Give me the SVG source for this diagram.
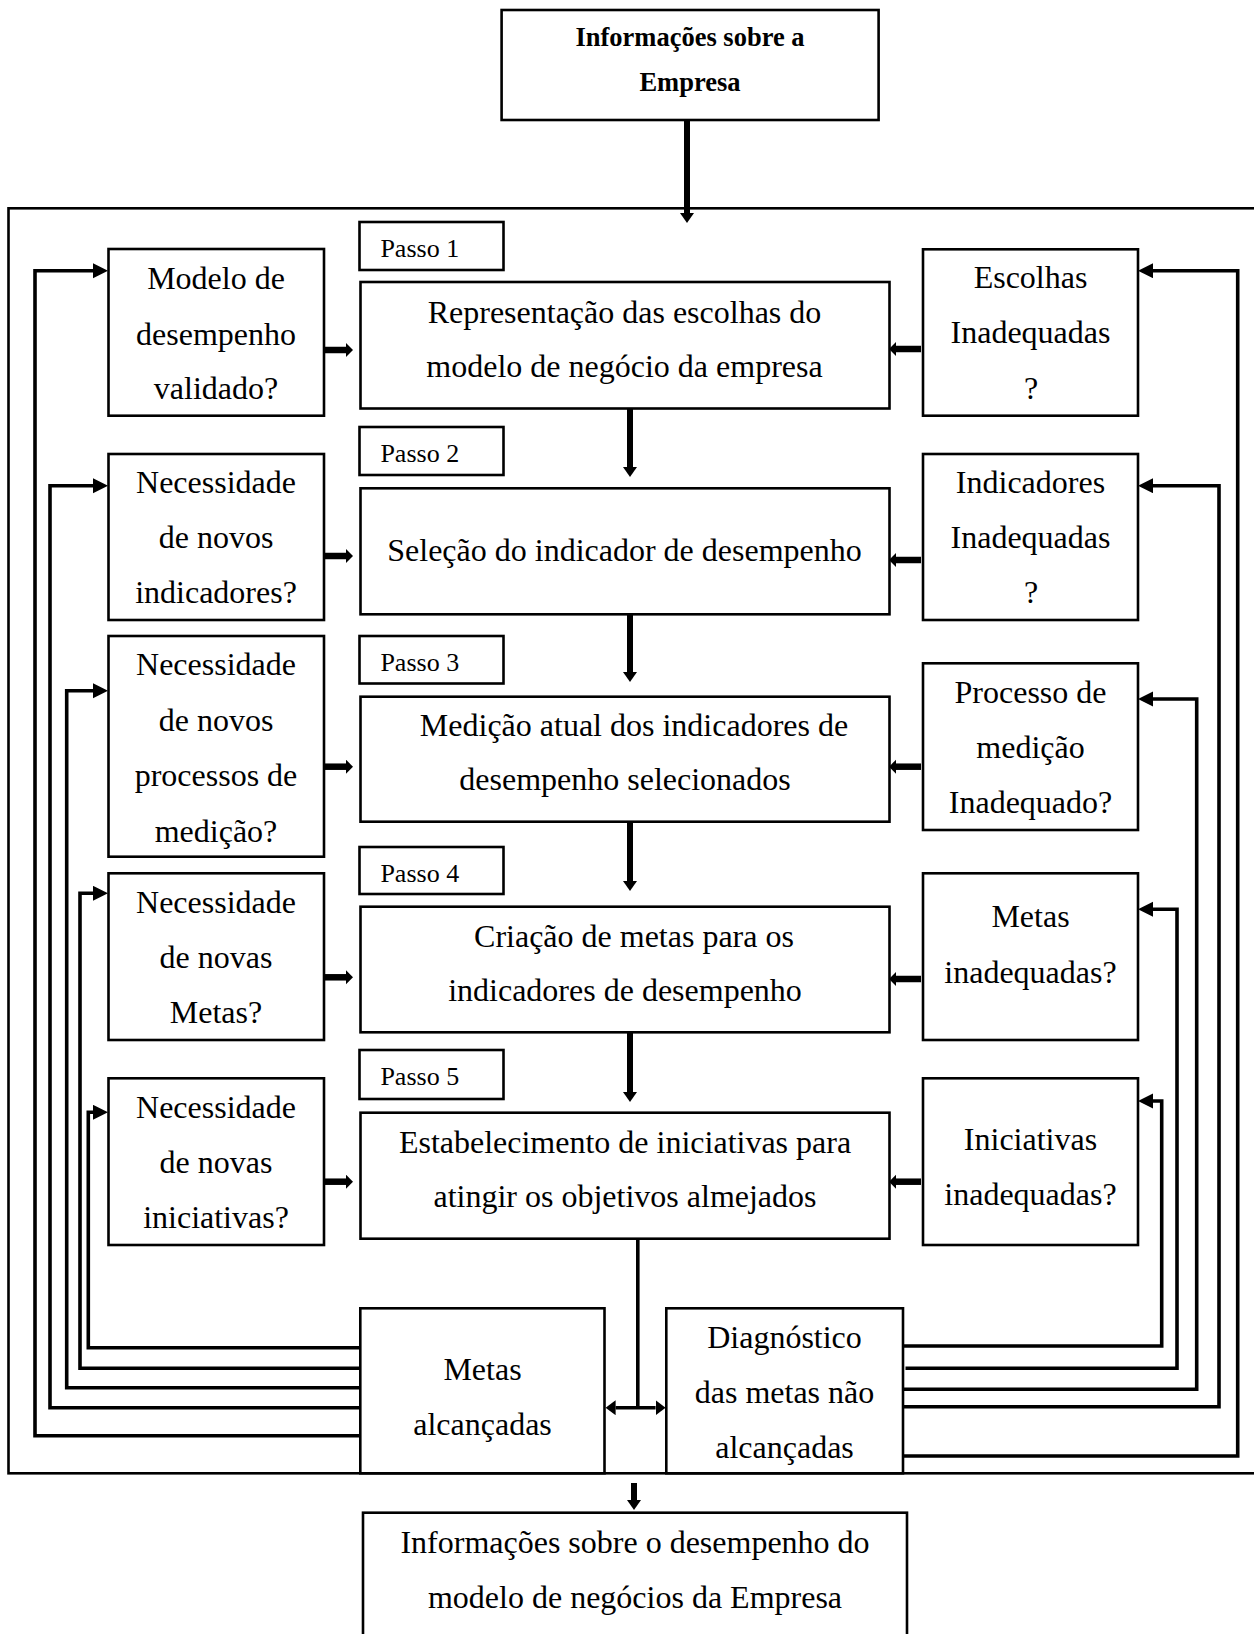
<svg xmlns="http://www.w3.org/2000/svg" width="1254" height="1634" viewBox="0 0 1254 1634">
<style>
.box{fill:#fff;stroke:#000;stroke-width:2.6}
.frame{fill:none;stroke:#000;stroke-width:2.6}
.t{font-family:"Liberation Serif","Times New Roman",serif;font-size:32px;text-anchor:middle;fill:#000}
.tb{font-family:"Liberation Serif","Times New Roman",serif;font-size:26.5px;font-weight:bold;text-anchor:middle;fill:#000}
.tp{font-family:"Liberation Serif","Times New Roman",serif;font-size:26px;fill:#000}
.loop{fill:none;stroke:#000;stroke-width:3.6;stroke-linejoin:miter}
.down{fill:none;stroke:#000;stroke-width:6}
.blk{fill:none;stroke:#000;stroke-width:6.5}
.dbl{fill:none;stroke:#000;stroke-width:3.6}
</style>
<defs>
<marker id="tri" markerUnits="userSpaceOnUse" markerWidth="16" markerHeight="16" refX="0" refY="7.5" orient="auto"><path d="M0,0 L15,7.5 L0,15 z" fill="#000"/></marker>
<marker id="dn" markerUnits="userSpaceOnUse" markerWidth="12" markerHeight="16" refX="0" refY="7" orient="auto"><path d="M0,0 L10,7 L0,14 z" fill="#000"/></marker>
<marker id="blk" markerUnits="userSpaceOnUse" markerWidth="9" markerHeight="16" refX="0" refY="7" orient="auto"><path d="M0,0 L7,7 L0,14 z" fill="#000"/></marker>
<marker id="dbl" markerUnits="userSpaceOnUse" markerWidth="12" markerHeight="16" refX="0" refY="7.5" orient="auto-start-reverse"><path d="M0,0 L10,7.5 L0,15 z" fill="#000"/></marker>
</defs>

<rect class="frame" x="8.5" y="208.3" width="1260" height="1265"/>

<g id="connectors">
<!-- top input -->
<path class="down" d="M687,120 V213" marker-end="url(#dn)"/>
<!-- step chain -->
<path class="down" d="M630,408 V467" marker-end="url(#dn)"/>
<path class="down" d="M630,614 V672" marker-end="url(#dn)"/>
<path class="down" d="M630,822 V881" marker-end="url(#dn)"/>
<path class="down" d="M630,1032 V1092" marker-end="url(#dn)"/>
<!-- left small arrows -->
<path class="blk" d="M322,350 H346" marker-end="url(#blk)"/>
<path class="blk" d="M322,556 H346" marker-end="url(#blk)"/>
<path class="blk" d="M322,766.7 H346" marker-end="url(#blk)"/>
<path class="blk" d="M322,977.3 H346" marker-end="url(#blk)"/>
<path class="blk" d="M322,1181.7 H346" marker-end="url(#blk)"/>
<!-- right small arrows -->
<path class="blk" d="M921,349 H896" marker-end="url(#blk)"/>
<path class="blk" d="M921,560 H896" marker-end="url(#blk)"/>
<path class="blk" d="M921,766.7 H896" marker-end="url(#blk)"/>
<path class="blk" d="M921,979 H896" marker-end="url(#blk)"/>
<path class="blk" d="M921,1181.7 H896" marker-end="url(#blk)"/>
<!-- step 5 to results -->
<path class="dbl" d="M637.8,1233 V1407.7" stroke-width="4.5"/>
<path class="dbl" d="M615.6,1407.7 H655.6" marker-start="url(#dbl)" marker-end="url(#dbl)"/>
<!-- output -->
<path class="down" d="M634,1483 V1500" marker-end="url(#dn)"/>
<!-- left feedback loops -->
<path class="loop" d="M360,1435.7 H35 V270.7 H93" marker-end="url(#tri)"/>
<path class="loop" d="M360,1407.7 H50 V485.7 H93" marker-end="url(#tri)"/>
<path class="loop" d="M360,1387.7 H66.7 V690.7 H93" marker-end="url(#tri)"/>
<path class="loop" d="M360,1368.3 H80 V893.3 H93" marker-end="url(#tri)"/>
<path class="loop" d="M360,1347.7 H88.3 V1112.3 H93" marker-end="url(#tri)"/>
<!-- right feedback loops -->
<path class="loop" d="M903,1456 H1237.7 V270.7 H1153" marker-end="url(#tri)"/>
<path class="loop" d="M903,1406.7 H1219 V485.7 H1153" marker-end="url(#tri)"/>
<path class="loop" d="M903,1389.3 H1196.7 V699 H1153" marker-end="url(#tri)"/>
<path class="loop" d="M905.5,1368.3 H1177 V909.3 H1153" marker-end="url(#tri)"/>
<path class="loop" d="M903,1346 H1161.7 V1101 H1153" marker-end="url(#tri)"/>
</g>

<g id="n-top">
<rect class="box" x="501.6" y="10" width="377" height="110"/>
<text class="tb" x="690" y="46">Informações sobre a</text>
<text class="tb" x="690" y="91">Empresa</text>
</g>

<g id="p1"><rect class="box" x="359.5" y="222" width="144" height="48"/><text class="tp" x="380.4" y="257.3">Passo 1</text></g>
<g id="p2"><rect class="box" x="359.5" y="427" width="144" height="48"/><text class="tp" x="380.4" y="461.7">Passo 2</text></g>
<g id="p3"><rect class="box" x="359.5" y="636" width="144" height="47.5"/><text class="tp" x="380.4" y="671">Passo 3</text></g>
<g id="p4"><rect class="box" x="359.5" y="847" width="144" height="47"/><text class="tp" x="380.4" y="881.5">Passo 4</text></g>
<g id="p5"><rect class="box" x="359.5" y="1050" width="144" height="49"/><text class="tp" x="380.4" y="1085">Passo 5</text></g>

<g id="s1"><rect class="box" x="360.5" y="282" width="529" height="126.5"/>
<text class="t" x="624.5" y="322.7">Representação das escolhas do</text>
<text class="t" x="624.5" y="376.7">modelo de negócio da empresa</text></g>
<g id="s2"><rect class="box" x="360.5" y="488.3" width="529" height="126"/>
<text class="t" x="624.5" y="561">Seleção do indicador de desempenho</text></g>
<g id="s3"><rect class="box" x="360.5" y="696.7" width="529" height="125"/>
<text class="t" x="634" y="736">Medição atual dos indicadores de</text>
<text class="t" x="625" y="790">desempenho selecionados</text></g>
<g id="s4"><rect class="box" x="360.5" y="906.7" width="529" height="125.6"/>
<text class="t" x="634" y="946.7">Criação de metas para os</text>
<text class="t" x="625" y="1001">indicadores de desempenho</text></g>
<g id="s5"><rect class="box" x="360.5" y="1112.7" width="529" height="126"/>
<text class="t" x="625" y="1152.7">Estabelecimento de iniciativas para</text>
<text class="t" x="625" y="1207">atingir os objetivos almejados</text></g>

<g id="l1"><rect class="box" x="108.5" y="249" width="215.5" height="166.7"/>
<text class="t" x="216" y="289">Modelo de</text><text class="t" x="216" y="344.5">desempenho</text><text class="t" x="216" y="399">validado?</text></g>
<g id="l2"><rect class="box" x="108.5" y="454" width="215.5" height="166"/>
<text class="t" x="216" y="493.3">Necessidade</text><text class="t" x="216" y="548.3">de novos</text><text class="t" x="216" y="603.3">indicadores?</text></g>
<g id="l3"><rect class="box" x="108.5" y="636" width="215.5" height="220.7"/>
<text class="t" x="216" y="675">Necessidade</text><text class="t" x="216" y="730.5">de novos</text><text class="t" x="216" y="785.7">processos de</text><text class="t" x="216" y="841.5">medição?</text></g>
<g id="l4"><rect class="box" x="108.5" y="873.3" width="215.5" height="166.7"/>
<text class="t" x="216" y="913.3">Necessidade</text><text class="t" x="216" y="968.3">de novas</text><text class="t" x="216" y="1023.3">Metas?</text></g>
<g id="l5"><rect class="box" x="108.5" y="1078.3" width="215.5" height="166.7"/>
<text class="t" x="216" y="1118.3">Necessidade</text><text class="t" x="216" y="1173.3">de novas</text><text class="t" x="216" y="1228.3">iniciativas?</text></g>

<g id="r1"><rect class="box" x="923" y="249.3" width="215" height="166.4"/>
<text class="t" x="1030.5" y="288.3">Escolhas</text><text class="t" x="1030.5" y="343.3">Inadequadas</text><text class="t" x="1031" y="399">?</text></g>
<g id="r2"><rect class="box" x="923" y="454" width="215" height="166"/>
<text class="t" x="1030.5" y="493.3">Indicadores</text><text class="t" x="1030.5" y="548.3">Inadequadas</text><text class="t" x="1031" y="603.3">?</text></g>
<g id="r3"><rect class="box" x="923" y="663.3" width="215" height="166.7"/>
<text class="t" x="1030.5" y="703.3">Processo de</text><text class="t" x="1030.5" y="758.3">medição</text><text class="t" x="1030.5" y="813.3">Inadequado?</text></g>
<g id="r4"><rect class="box" x="923" y="873.3" width="215" height="166.7"/>
<text class="t" x="1030.5" y="926.7">Metas</text><text class="t" x="1030.5" y="983.3">inadequadas?</text></g>
<g id="r5"><rect class="box" x="923" y="1078.3" width="215" height="166.7"/>
<text class="t" x="1030.5" y="1150">Iniciativas</text><text class="t" x="1030.5" y="1205">inadequadas?</text></g>

<g id="ok"><rect class="box" x="360.3" y="1308.3" width="244.2" height="165"/>
<text class="t" x="482.5" y="1380">Metas</text><text class="t" x="482.5" y="1435">alcançadas</text></g>
<g id="diag"><rect class="box" x="666.3" y="1308.3" width="236.7" height="165"/>
<text class="t" x="784.5" y="1348.3">Diagnóstico</text><text class="t" x="784.5" y="1403.3">das metas não</text><text class="t" x="784.5" y="1458.3">alcançadas</text></g>

<g id="n-out"><rect class="box" x="363" y="1512.7" width="544" height="140"/>
<text class="t" x="635" y="1553.3">Informações sobre o desempenho do</text>
<text class="t" x="635" y="1608.3">modelo de negócios da Empresa</text></g>
</svg>
